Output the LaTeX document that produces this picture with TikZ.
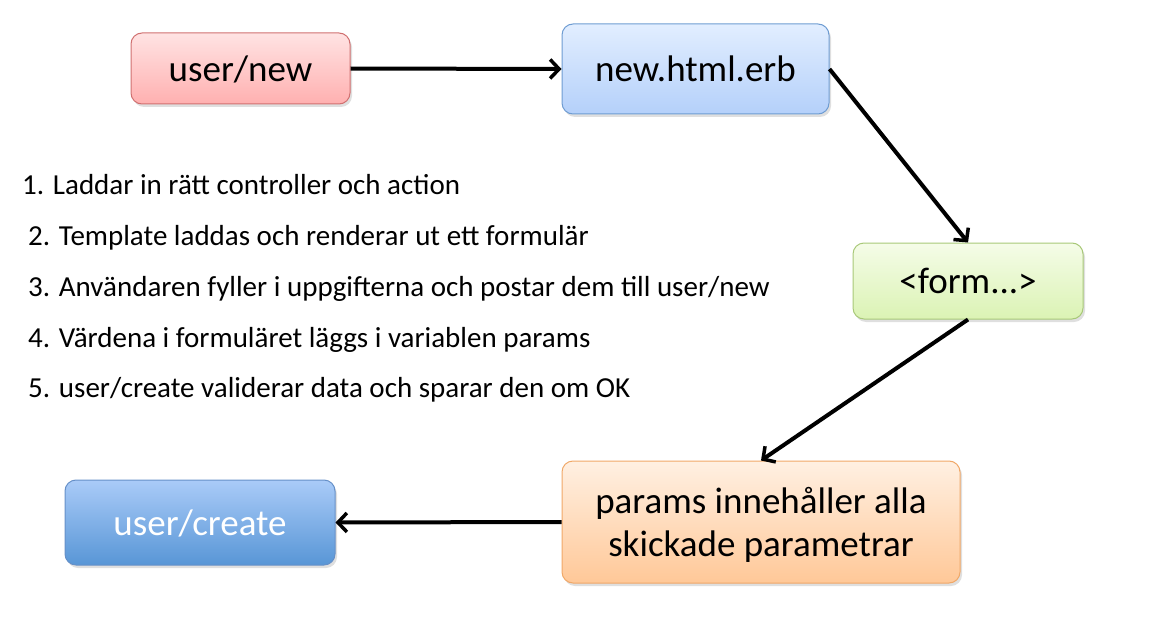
\documentclass[tikz,border=0pt]{standalone}
\usepackage{fontspec}
\setmainfont{Carlito}
\usetikzlibrary{arrows.meta,shadows}
\definecolor{redtop}{HTML}{FFE3E3}\definecolor{redbot}{HTML}{FFB0B0}\definecolor{redline}{HTML}{D07070}
\definecolor{bltop}{HTML}{E2EEFF}\definecolor{blbot}{HTML}{B4D0FA}\definecolor{blline}{HTML}{6E9CD2}
\definecolor{grtop}{HTML}{F5FCE8}\definecolor{grbot}{HTML}{DBF3B4}\definecolor{grline}{HTML}{A8C878}
\definecolor{ortop}{HTML}{FFF0E2}\definecolor{orbot}{HTML}{FFC898}\definecolor{orline}{HTML}{F0A868}
\definecolor{dbtop}{HTML}{AACBF8}\definecolor{dbbot}{HTML}{5896D6}\definecolor{dbline}{HTML}{6690C8}
\tikzset{
  boxbase/.style={rectangle, rounded corners=11pt, line width=1pt, inner sep=0pt, align=center,
    text depth=0pt, font=\fontsize{37}{43}\selectfont, drop shadow={shadow xshift=2pt, shadow yshift=-3pt, opacity=0.25}},
  redbox/.style={boxbase, draw=redline, top color=redtop, bottom color=redbot},
  bluebox/.style={boxbase, draw=blline, top color=bltop, bottom color=blbot},
  greenbox/.style={boxbase, draw=grline, top color=grtop, bottom color=grbot},
  orangebox/.style={boxbase, draw=orline, top color=ortop, bottom color=orbot},
  darkbox/.style={boxbase, draw=dbline, top color=dbtop, bottom color=dbbot, text=white},
  conn/.style={line width=4pt, -{Straight Barb[length=9pt,width=19pt,line width=3.5pt]}},
  item/.style={anchor=west, font=\fontsize{29}{34}\selectfont, inner sep=0pt}
}
\begin{document}
\begin{tikzpicture}[x=1pt,y=-1pt]
\path[use as bounding box] (0,0) rectangle (1151,623);
\node[redbox, minimum width=219pt, minimum height=71pt] (un) at (240.5,68.5) {user/new};
\node[bluebox, minimum width=267pt, minimum height=90pt] (nh) at (695.5,69) {new.html.erb};
\node[greenbox, minimum width=230pt, minimum height=76pt] (fm) at (968,281) {<form...>};
\node[orangebox, minimum width=398pt, minimum height=122pt] (pa) at (761,522) {params innehåller alla\\skickade parametrar};
\node[darkbox, minimum width=270pt, minimum height=85pt] (uc) at (200,522.5) {user/create};
\node[item] (l1) at (22,185) {1. Laddar in rätt controller och action};
\node[item] (l2) at (28,238) {2. Template laddas och renderar ut ett formulär};
\node[item] (l3) at (28,289) {3. Användaren fyller i uppgifterna och postar dem till user/new};
\node[item] (l4) at (28,340) {4. Värdena i formuläret läggs i variablen params};
\node[item] (l5) at (28,390) {5. user/create validerar data och sparar den om OK};
\draw[conn] (un.east) -- (nh.west);
\draw[conn] (nh.east) -- (fm.north);
\draw[conn] (fm.south) -- (pa.north);
\draw[conn] (pa.west) -- (uc.east);
\end{tikzpicture}
\end{document}
